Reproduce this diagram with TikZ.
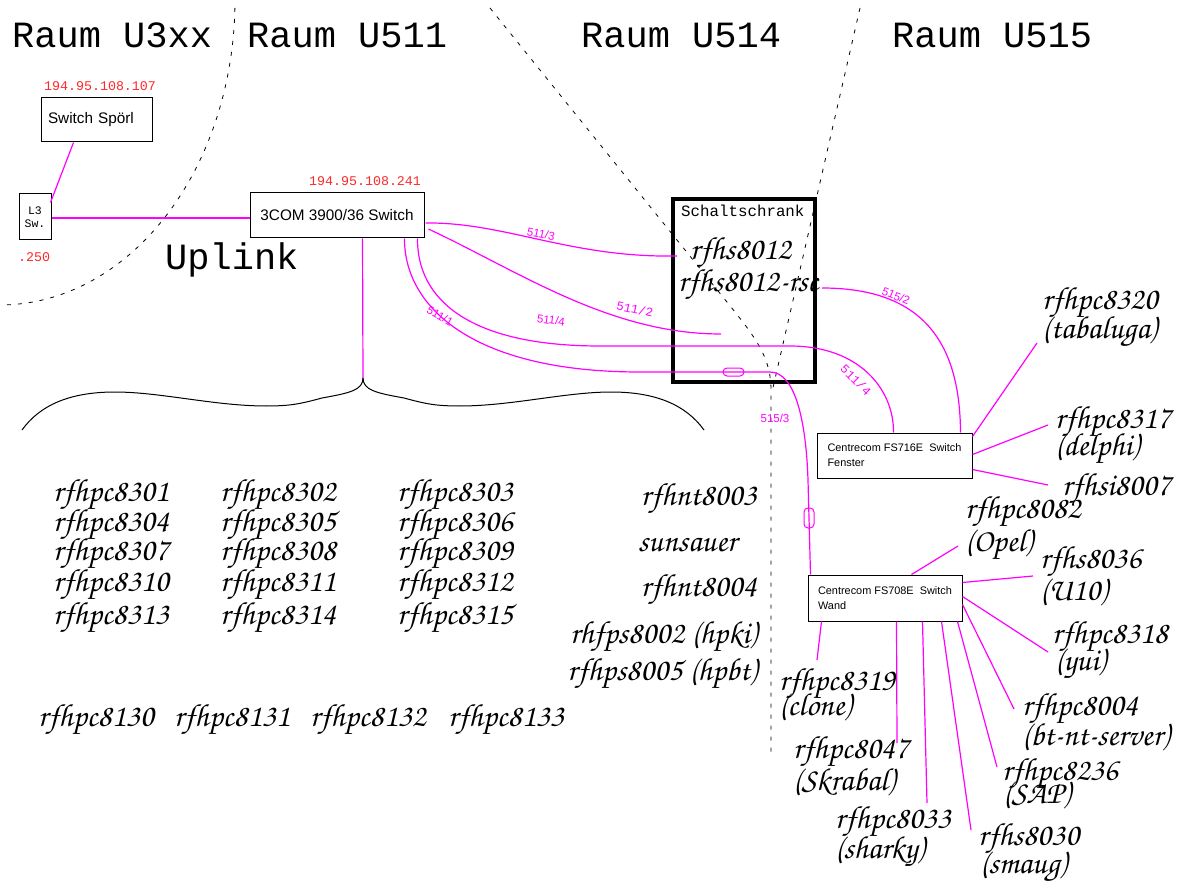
\documentclass[tikz,border=0pt]{standalone}
\usepackage{fontspec}
\usetikzlibrary{calc}
\setmainfont{Liberation Sans}
\newfontfamily\monof{Liberation Mono}
\IfFontExistsTF{TeX Gyre Chorus}{\newfontfamily\chanf{TeX Gyre Chorus}}{\newfontfamily\chanf{Liberation Serif}[UprightFont=* Italic]}
\definecolor{pinkl}{RGB}{255,0,255}
\definecolor{ipred}{RGB}{255,40,40}
\begin{document}
\begin{tikzpicture}[x=1pt,y=-1pt,
  wall/.style={line width=0.8pt, dash pattern=on 4pt off 7pt},
  link/.style={draw=pinkl, line width=1.2pt},
  box/.style={draw, line width=1pt, inner sep=0pt, font=\fontsize{15.3}{18}\selectfont},
  smallbox/.style={draw, line width=1pt, inner sep=0pt, align=left, font=\fontsize{10.9}{15}\selectfont},
  room/.style={anchor=base west, inner sep=0pt, font=\monof\fontsize{37}{37}\selectfont},
  ip/.style={anchor=base west, inner sep=0pt, text=ipred, font=\monof\fontsize{13.3}{13.3}\selectfont},
  host/.style={anchor=base west, inner sep=0pt, font=\chanf\fontsize{32}{32}\selectfont},
  hostr/.style={host, anchor=base east},
  port/.style={text=pinkl, inner sep=0pt, font=\fontsize{11.5}{11.5}\selectfont},
  portm/.style={text=pinkl, inner sep=0pt, font=\monof\fontsize{12.4}{12.4}\selectfont},
  capsule/.style={draw=pinkl, line width=1pt, rounded corners=4pt, inner sep=0pt}
]
\useasboundingbox (0,0) rectangle (1181,885);

% room borders
\draw[wall] plot[domain=1.5:90, samples=80] ({235*cos(\x)},{305*sin(\x)});
\draw[wall] (490,8) -- (735,312) .. controls (758,341) and (771,360) .. (771,390) -- (771,752);
\draw[wall] (860,8) -- (772,392);

% room labels
\node[room] (r3xx) at (12,48) {Raum U3xx};
\node[room] (r511) at (247,48) {Raum U511};
\node[room] (r514) at (581,48) {Raum U514};
\node[room] (r515) at (892,48) {Raum U515};
\node[room] (uplink) at (165,270) {Uplink};

% boxes
\node[box, minimum width=111pt, minimum height=44pt, text width=97pt, align=left] (sporl) at (96.5,120) {Switch Spörl};
\node[ip] (ipsporl) at (44,91) {194.95.108.107};
\node[draw, line width=1pt, minimum width=32pt, minimum height=46pt, inner sep=0pt, align=center, font=\monof\fontsize{11.5}{13.5}\selectfont] (l3) at (35,217) {L3\\Sw.};
\node[ip] (ipl3) at (18,262) {.250};
\node[box, minimum width=174pt, minimum height=45pt] (c3com) at (337,215.5) {3COM 3900/36 Switch};
\node[ip] (ip3com) at (309,186) {194.95.108.241};

% Schaltschrank
\node[anchor=base west, inner sep=0pt, font=\monof\fontsize{15.8}{15.8}\selectfont] (schrlabel) at (681,217) {Schaltschrank};
\node[host] (rfhs8012) at (690,260) {rfhs8012};
\node[host] (rsc) at (678,292) {rfhs8012-rsc};
\node[draw, line width=3.5pt, minimum width=142pt, minimum height=183pt, inner sep=0pt] (schrank) at (744,290.5) {};

\node[smallbox, minimum width=155pt, minimum height=45pt] (fs716) at (894.5,455.5) {Centrecom FS716E\ \ Switch\\Fenster};
\node[smallbox, minimum width=154pt, minimum height=46pt] (fs708) at (885,598) {Centrecom FS708E\ \ Switch\\Wand};

% uplinks
\draw[link] ($(sporl.south west)+(33,0)$) -- ($(l3.north east)+(-1,9)$);
\draw[link] ($(l3.east)+(0,1)$) -- ($(c3com.west)+(0,2.5)$);

% brace
\coordinate (tip) at (363,378);
\draw[link] ($(c3com.south west)+(113,0)$) -- (tip);
\draw[line width=1pt] (tip) .. controls (363,390) and (350,393) .. (322,398) .. controls (300,404) and (290,406) .. (266,406) .. controls (215,406) and (160,392) .. (115,392) .. controls (70,392) and (40,405) .. (22,430);
\draw[line width=1pt] (tip) .. controls (363,390) and (376,393) .. (404,398) .. controls (426,404) and (436,406) .. (460,406) .. controls (511,406) and (566,392) .. (611,392) .. controls (656,392) and (686,405) .. (704,430);

% cables from 3COM
\coordinate (e5113) at (677,256);
\coordinate (e5112) at (721,334);
\draw[link] ($(c3com.east)+(1,7.5)$) .. controls (505,222) and (570,258) .. (e5113);
\draw[link] ($(c3com.east)+(4,13.5)$) .. controls (520,272) and (610,334) .. (e5112);
\draw[link] ($(c3com.south east)+(-7,0)$) .. controls (417,300) and (470,346) .. (600,346) -- (790,346) .. controls (860,346) and (894,390) .. ($(fs716.north west)+(77,0)$);
\draw[link] ($(c3com.south east)+(-20,0)$) .. controls (404,305) and (470,372) .. (640,372) -- (770,372) .. controls (795,372) and (806,420) .. (808,480) -- ($(fs708.north west)+(3,0)$);
\node[capsule, minimum width=21pt, minimum height=8pt] (cap1) at (733.5,372) {};
\node[capsule, minimum width=10pt, minimum height=20pt] (cap2) at (809,518) {};
\coordinate (s5152) at (822,288);
\draw[link] (s5152) .. controls (925,288) and (960,345) .. ($(fs716.north east)+(-12,0)$);

% port labels
\node[port, rotate=-12] (l5113) at (541,234) {511/3};
\node[portm, rotate=-12] (l5112) at (635,309) {511/2};
\node[port, rotate=-8] (l5114) at (551,320) {511/4};
\node[port, rotate=-30] (l5111) at (440,316) {511/1};
\node[portm, rotate=-45] (l5114b) at (856,380) {511/4};
\node[port, rotate=-22] (l5152) at (896,296) {515/2};
\node[port] (l5153) at (775,418) {515/3};

% left hosts
\foreach \n/\x/\y in {8301/53/501, 8302/220/501, 8303/397/501,
  8304/53/531, 8305/220/531, 8306/397/531,
  8307/53/560, 8308/220/560, 8309/397/560,
  8310/53/591, 8311/220/591, 8312/397/591,
  8313/53/624, 8314/220/624, 8315/397/624,
  8130/38/726, 8131/174/726, 8132/310/726, 8133/448/726}
  \node[host] (h\n) at (\x,\y) {rfhpc\n};

% middle hosts
\node[hostr] (hnt8003) at (757,505) {rfhnt8003};
\node[hostr] (hsun) at (737,551) {sunsauer};
\node[hostr] (hnt8004) at (757,596) {rfhnt8004};
\node[hostr] (hps8002) at (757,643) {rhfps8002 (hpki)};
\node[hostr] (hps8005) at (757,680) {rfhps8005 (hpbt)};

% hosts at FS716E
\node[host] (h8320) at (1042,310) {rfhpc8320};
\node[host] (h8320b) at (1042,338) {(tabaluga)};
\node[host] (h8317) at (1055,428) {rfhpc8317};
\node[host] (h8317b) at (1055,455) {(delphi)};
\node[host] (h8007) at (1062,495) {rfhsi8007};
\coordinate (e8320) at (1037,343);
\coordinate (e8317) at (1048,425);
\coordinate (e8007) at (1048,485);
\draw[link] ($(fs716.north east)+(0,4)$) -- (e8320);
\draw[link] ($(fs716.east)+(0,-1)$) -- (e8317);
\draw[link] ($(fs716.north east)+(0,37)$) -- (e8007);

% hosts at FS708E
\node[host] (h8082) at (965,518) {rfhpc8082};
\node[host] (h8082b) at (965,551) {(Opel)};
\node[host] (h8036) at (1040,568) {rfhs8036};
\node[host] (h8036b) at (1040,600) {(U10)};
\node[host] (h8318) at (1052,643) {rfhpc8318};
\node[host] (h8318b) at (1055,670) {(yui)};
\node[host] (h8004) at (1022,715) {rfhpc8004};
\node[host] (h8004b) at (1022,745) {(bt-nt-server)};
\node[host] (h8236) at (1002,780) {rfhpc8236};
\node[host] (h8236b) at (1003,803) {(SAP)};
\node[host] (h8030) at (978,845) {rfhs8030};
\node[host] (h8030b) at (980,873) {(smaug)};
\node[host] (h8033) at (835,828) {rfhpc8033};
\node[host] (h8033b) at (835,858) {(sharky)};
\node[host] (h8047) at (793,758) {rfhpc8047};
\node[host] (h8047b) at (793,790) {(Skrabal)};
\node[host] (h8319) at (779,690) {rfhpc8319};
\node[host] (h8319b) at (779,715) {(clone)};

\coordinate (e8082) at (958,546);
\coordinate (e8036) at (1033,576);
\coordinate (e8318) at (1048,652);
\coordinate (e8004) at (1014,709);
\coordinate (e8236) at (997,767);
\coordinate (e8030) at (971,830);
\coordinate (e8033) at (927,803);
\coordinate (e8047) at (897,743);
\coordinate (e8319) at (817,660);
\draw[link] ($(fs708.north west)+(104,0)$) -- (e8082);
\draw[link] ($(fs708.north east)+(0,8)$) -- (e8036);
\draw[link] ($(fs708.north east)+(0,22)$) -- (e8318);
\draw[link] ($(fs708.north east)+(0,30)$) -- (e8004);
\draw[link] ($(fs708.south east)+(-5,0)$) -- (e8236);
\draw[link] ($(fs708.south east)+(-21,0)$) -- (e8030);
\draw[link] ($(fs708.south east)+(-40,0)$) -- (e8033);
\draw[link] ($(fs708.south west)+(89,0)$) -- (e8047);
\draw[link] ($(fs708.south west)+(14,0)$) -- (e8319);
\end{tikzpicture}
\end{document}
